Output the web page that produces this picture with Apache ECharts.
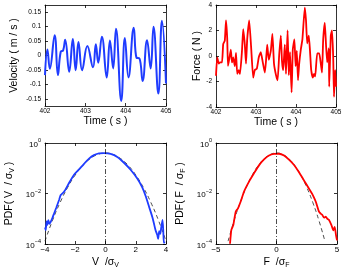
<!DOCTYPE html>
<html><head><meta charset="utf-8">
<script src="https://cdn.jsdelivr.net/npm/echarts@6/dist/echarts.min.js"></script>
<style>html,body{margin:0;padding:0;background:#fff}#c{width:345px;height:273px}</style>
</head><body><div id="c"></div>
<script>
// Velocity time series (s, m/s)
const velTime = [402.0,402.06,402.12,402.24,402.32,402.39,402.45,402.50,402.60,402.69,402.76,402.83,402.92,403.05,403.19,403.26,403.32,403.41,403.53,403.61,403.69,403.76,403.89,403.98,404.07,404.20,404.27,404.34,404.42,404.53,404.62,404.69,404.81,404.90,405.0];
const velVal  = [-0.068,0.021,-0.046,0.070,-0.068,0.013,0.018,0.055,-0.056,0.057,-0.051,0.047,-0.051,0.033,-0.041,0.039,-0.025,0.065,-0.076,0.052,-0.045,0.093,-0.158,0.061,-0.076,0.096,-0.008,-0.010,-0.088,0.053,-0.045,0.100,-0.132,0.120,-0.097];
// Force time series (s, N)
const forTime = [402.0,402.03,402.07,402.10,402.15,402.18,402.22,402.25,402.28,402.30,402.33,402.37,402.40,402.43,402.47,402.50,402.53,402.57,402.60,402.65,402.68,402.72,402.75,402.78,402.83,402.88,402.93,402.97,403.02,403.07,403.12,403.17,403.22,403.25,403.28,403.32,403.37,403.41,403.45,403.50,403.54,403.58,403.62,403.65,403.68,403.72,403.75,403.79,403.82,403.85,403.89,403.92,403.96,403.99,404.02,404.05,404.08,404.12,404.16,404.22,404.25,404.28,404.32,404.35,404.38,404.42,404.45,404.48,404.53,404.58,404.62,404.65,404.68,404.72,404.75,404.78,404.82,404.83,404.87,404.90,404.93,404.95,404.98,405.0];
const forVal  = [-1.55,-0.1,-0.6,-0.5,-0.5,0.93,1.2,2.8,1.4,-0.78,-0.27,0.5,-0.5,-0.1,-0.8,0.24,-1.4,-1.1,-1.4,0.42,2.1,0.9,-0.6,1.3,2.8,0.6,-1.7,-1.1,-1.0,-0.1,0.3,-0.5,-1.3,-0.4,0.9,-0.3,0.4,1.73,-0.6,-1.5,-1.9,0.1,1.6,-0.4,-1.1,0.9,-1.4,2.0,-1.5,0.3,-2.85,0.5,1.3,-0.8,0.4,-1.9,-0.6,0.5,1.3,3.8,2.8,1.0,1.6,0.4,-1.1,-1.7,-1.4,-1.6,0.2,0.2,-0.6,-1.3,1.3,2.6,0.9,-0.5,0.6,-2.4,1.6,2.0,-0.1,-3.2,-1.1,-2.4];
// PDF of V / sigma_V
const pdfVX = [-4.0,-3.95,-3.9,-3.85,-3.78,-3.72,-3.62,-3.5,-3.4,-3.25,-3.07,-2.96,-2.74,-2.41,-2.08,-1.75,-1.42,-1.09,-0.76,-0.43,-0.1,0.34,0.78,1.22,1.66,2.1,2.43,2.66,2.88,3.1,3.2,3.31,3.42,3.48,3.55,3.62,3.68,3.77,3.82,3.86,3.92];
const pdfVY = [4.5e-4,3.5e-4,7.9e-4,5.6e-4,8.9e-4,6.3e-4,7.6e-4,1.12e-3,1.62e-3,2.8e-3,5.5e-3,8.7e-3,0.0117,0.026,0.055,0.09,0.15,0.24,0.33,0.39,0.395,0.37,0.28,0.165,0.087,0.039,0.0175,7.8e-3,3.0e-3,1.15e-3,6.6e-4,3.5e-4,2.3e-4,1.6e-4,3.2e-4,2.5e-4,4.3e-4,9.1e-4,3.2e-4,1.1e-4,1.26e-4];
// PDF of F / sigma_F
const pdfFX = [-3.84,-3.73,-3.57,-3.37,-3.18,-2.96,-2.69,-2.27,-1.86,-1.45,-1.03,-0.62,-0.21,0.21,0.62,1.03,1.45,1.86,2.27,2.69,2.96,3.24,3.51,3.65,3.79,3.93,4.07,4.2,4.34,4.54,4.7,4.81,4.92,5.0];
const pdfFY = [1.02e-4,3.6e-4,5.6e-4,1.9e-3,2.6e-3,4.8e-3,0.0117,0.0295,0.063,0.13,0.225,0.32,0.37,0.375,0.32,0.22,0.135,0.07,0.033,0.0155,0.0095,4.8e-3,1.9e-3,1.6e-3,1.41e-3,1.1e-3,1.2e-3,1.0e-3,8.9e-4,5.6e-4,3.5e-4,4.8e-4,2.2e-4,1.4e-4];
// Gaussian reference (dashed)
const gaussX = [-4,-3.5,-3,-2.5,-2,-1.5,-1,-0.5,0,0.5,1,1.5,2,2.5,3,3.5,4];
const gaussY = [1.3e-4,8.7e-4,4.4e-3,0.0175,0.054,0.13,0.242,0.352,0.399,0.352,0.242,0.13,0.054,0.0175,4.4e-3,8.7e-4,1.3e-4];
// Tick labels
const timeTicks = [402,403,404,405];
const velTicks = [-0.15,-0.1,-0.05,0,0.05,0.1,0.15];
const forTicks = [-4,-2,0,2,4];
const logTicks = [1e-4,1e-2,1];
const pdfVTicks = [-4,-2,0,2,4];
const pdfFTicks = [-5,0,5];

const zip = (a,b) => a.map((v,i)=>[v,b[i]]);
const FONT = 'Liberation Sans';
const BLUE = '#1f3cff', RED = '#ff0000';
const minus = s => String(s).replace('-', '\u2212');

const grids = [
  {left:45, top:5, width:121, height:101},
  {left:216, top:5, width:120, height:102},
  {left:45, top:143, width:121, height:101},
  {left:216, top:143, width:121, height:101}
];

function lineS(){ return {show:true, onZero:false, lineStyle:{color:'#000', width:0.8}}; }
function tickS(vals){ const t = {show:true, inside:true, length:3, lineStyle:{color:'#000', width:0.8}}; if (vals) t.customValues = vals; return t; }

const xAxes = [], yAxes = [];
function addX(gi, cfg, labelCfg, name, nameGap, rich){
  xAxes.push(Object.assign({gridIndex:gi, position:'bottom', axisLine:lineS(), axisTick:tickS(labelCfg.customValues), splitLine:{show:false},
    axisLabel:Object.assign({color:'#000', fontFamily:FONT, margin:2}, labelCfg),
    name:name, nameLocation:'middle', nameGap:nameGap,
    nameTextStyle:{color:'#000', fontFamily:FONT, fontSize:10.5, rich:rich}}, cfg));
  xAxes.push(Object.assign({gridIndex:gi, position:'top', axisLine:lineS(), axisTick:tickS(labelCfg.customValues), splitLine:{show:false}, axisLabel:{show:false}}, cfg));
}
function addY(gi, cfg, labelCfg, name, nameGap, rich){
  yAxes.push(Object.assign({gridIndex:gi, position:'left', axisLine:lineS(), axisTick:tickS(labelCfg.customValues), splitLine:{show:false},
    axisLabel:Object.assign({color:'#000', fontFamily:FONT, margin:4}, labelCfg),
    name:name, nameLocation:'middle', nameGap:nameGap, nameRotate:90,
    nameTextStyle:{color:'#000', fontFamily:FONT, fontSize:10.5, rich:rich}}, cfg));
  yAxes.push(Object.assign({gridIndex:gi, position:'right', axisLine:lineS(), axisTick:tickS(labelCfg.customValues), splitLine:{show:false}, axisLabel:{show:false}}, cfg));
}

const subRich = {
  n:{fontSize:10.5, fontFamily:FONT, color:'#000', lineHeight:12, verticalAlign:'top'},
  s:{fontSize:7, fontFamily:FONT, color:'#000', lineHeight:7, verticalAlign:'bottom', padding:[7,0,0,0]}
};
const logLabel = {fontSize:8, customValues:logTicks,
  formatter: v => { const e = Math.round(Math.log10(v)); return '{b|10}{s|' + (e<0 ? '\u2212'+(-e) : e) + '}'; },
  rich:{ b:{fontSize:8, fontFamily:FONT, color:'#000', lineHeight:11, verticalAlign:'bottom'},
         s:{fontSize:5.5, fontFamily:FONT, color:'#000', lineHeight:6, verticalAlign:'top'} }};

// panel 0: velocity
addX(0, {type:'value', min:402, max:405}, {fontSize:6.5, customValues:timeTicks}, 'Time ( s )', 10);
addY(0, {type:'value', min:-0.175, max:0.175}, {fontSize:6.5, customValues:velTicks}, 'Velocity ( m / s )', 25);
// panel 1: force
addX(1, {type:'value', min:402, max:405}, {fontSize:6.5, customValues:timeTicks}, 'Time ( s )', 10);
addY(1, {type:'value', min:-4, max:4}, {fontSize:6.5, customValues:forTicks}, 'Force ( N )', 13);
// panel 2: PDF V
addX(2, {type:'value', min:-4, max:4}, {fontSize:8, customValues:pdfVTicks, formatter:minus}, '{n|V  /σ}{s|V}', 10, subRich);
addY(2, {type:'log', logBase:10, min:1e-4, max:1}, logLabel, '{n|PDF( V  / σ}{s|V}{n| )}', 29, subRich);
// panel 3: PDF F
addX(3, {type:'value', min:-5, max:5}, {fontSize:8, customValues:pdfFTicks, formatter:minus}, '{n|F  /σ}{s|F}', 10, subRich);
addY(3, {type:'log', logBase:10, min:1e-4, max:1}, logLabel, '{n|PDF( F  / σ}{s|F}{n| )}', 29, subRich);

const zeroLine = {silent:true, symbol:'none', label:{show:false},
  lineStyle:{color:'#000', width:0.7, type:[5,2,1,2]}, data:[{xAxis:0}]};

const series = [
  {type:'line', xAxisIndex:0, yAxisIndex:0, data:zip(velTime, velVal), smooth:0.45, showSymbol:false, lineStyle:{color:BLUE, width:2}},
  {type:'line', xAxisIndex:2, yAxisIndex:2, data:zip(forTime, forVal), smooth:0.15, showSymbol:false, lineStyle:{color:RED, width:1.8}},
  {type:'line', xAxisIndex:4, yAxisIndex:4, data:zip(gaussX, gaussY), smooth:true, showSymbol:false, lineStyle:{color:'#000', width:0.7, type:[4,3]}, z:1},
  {type:'line', xAxisIndex:4, yAxisIndex:4, data:zip(pdfVX, pdfVY), smooth:0.2, showSymbol:false, lineStyle:{color:BLUE, width:1.8}, markLine:zeroLine, z:2},
  {type:'line', xAxisIndex:6, yAxisIndex:6, data:zip(gaussX, gaussY), smooth:true, showSymbol:false, lineStyle:{color:'#000', width:0.7, type:[4,3]}, z:1},
  {type:'line', xAxisIndex:6, yAxisIndex:6, data:zip(pdfFX, pdfFY), smooth:0.2, showSymbol:false, lineStyle:{color:RED, width:1.8}, markLine:zeroLine, z:2}
];

const chart = echarts.init(document.getElementById('c'), null, {renderer:'canvas'});
chart.setOption({animation:false, backgroundColor:'#fff', grid:grids, xAxis:xAxes, yAxis:yAxes, series:series});
</script></body></html>
